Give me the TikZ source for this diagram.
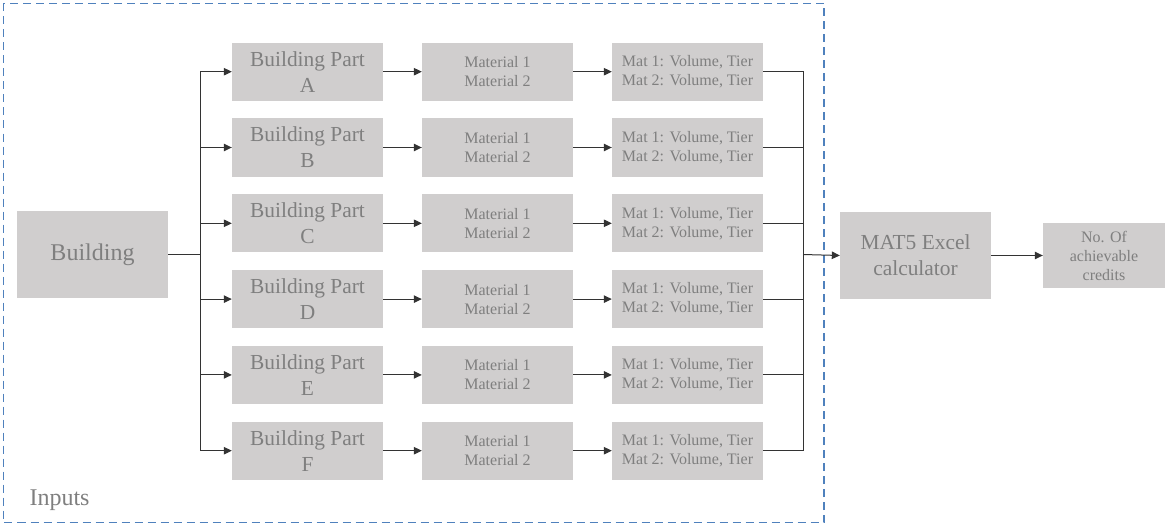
\documentclass[tikz,border=0pt]{standalone}
\usepackage{fontspec}
\setmainfont{Liberation Serif}
\usetikzlibrary{arrows.meta}
\definecolor{boxfill}{HTML}{D0CECE}
\definecolor{boxtext}{HTML}{7F7F7F}
\definecolor{frameblue}{HTML}{4F81BD}
\definecolor{linegray}{HTML}{333333}
\tikzset{
  block/.style={rectangle, fill=boxfill, draw=none, inner sep=0pt, align=center,
    text=boxtext, minimum width=151pt, minimum height=58pt},
  bigblock/.style={block, minimum height=87pt, font=\fontsize{24}{29}\selectfont},
  partbox/.style={block, font=\fontsize{21.4}{26}\selectfont},
  matbox/.style={block, font=\fontsize{16}{19}\selectfont},
  link/.style={draw=linegray, line width=1pt},
  arr/.style={link, -{Triangle[length=8pt,width=7.5pt]}},
}
\begin{document}
\begin{tikzpicture}[x=1pt,y=-1pt]
\useasboundingbox (0,0) rectangle (1166,524);
% input frame
\draw[frameblue, line width=1.1pt, dash pattern=on 8pt off 5pt] (3.5,3.5) rectangle (824,522.5);
\node[anchor=west, text=boxtext, font=\fontsize{24}{29}\selectfont] (inputs) at (26,500) {Inputs};

% whole building
\node[bigblock] (bld) at (92.5,254.5) {Building};

% building parts, materials and material data
\foreach \n/\L [count=\i from 0] in {A/A,B/B,C/C,D/D,E/E,F/F}{
  \pgfmathsetmacro{\yy}{71.7+75.8*\i}
  \node[partbox] (p\n) at (307.5,\yy) {Building Part\\\L};
  \node[matbox] (m\n) at (497.5,\yy) {Material 1\\Material 2};
  \node[matbox] (d\n) at (687.5,\yy) {Mat 1: Volume, Tier\\Mat 2: Volume, Tier};
}

% calculator and result
\node[bigblock, font=\fontsize{21.4}{26}\selectfont] (calc) at (915.5,255.5) {MAT5 Excel\\calculator};
\node[block, minimum width=122pt, minimum height=65pt, font=\fontsize{16}{19}\selectfont] (res) at (1104,255.5) {No. Of\\achievable\\credits};

% connectors
\coordinate (split) at (200,254.5);
\coordinate (join) at (803,254.5);
\draw[link] (bld.east) -- (split);
\foreach \n in {A,B,C,D,E,F}{
  \draw[arr] (split) |- (p\n.west);
  \draw[arr] (p\n.east) -- (m\n.west);
  \draw[arr] (m\n.east) -- (d\n.west);
  \draw[link] (d\n.east) -| (join);
}
\draw[arr] (join) -- (calc.west);
\draw[arr] (calc.east) -- (res.west);
\end{tikzpicture}
\end{document}
